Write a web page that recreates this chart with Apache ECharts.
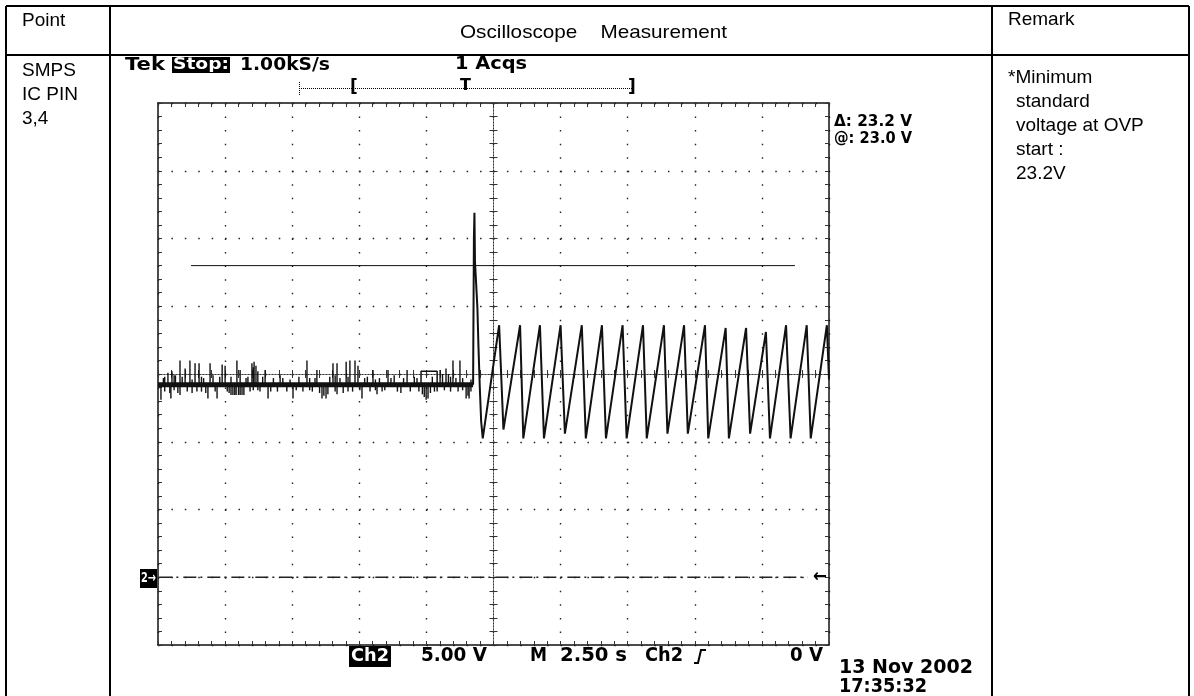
<!DOCTYPE html>
<html><head><meta charset="utf-8">
<script src="https://cdn.jsdelivr.net/npm/echarts@6/dist/echarts.min.js"></script>
<style>html,body{margin:0;padding:0;background:#fff}#c{width:1194px;height:696px}</style>
</head><body><div id="c"></div>
<script>
// ---- scale (oscilloscope: 10 div x 2.50 s, 8 div x 5.00 V, ground at 0 V) ----
const timeMin = 0, timeMax = 25, timeStep = 2.5;
const voltMin = -5, voltMax = 35, voltStep = 5;

// ---- noise before OVP start: vertical spikes (time s, low V, high V) ----
const noiseT  = [0.11,0.20,0.25,0.37,0.44,0.48,0.52,0.60,0.65,0.74,0.82,0.90,1.01,1.09,1.19,1.27,1.38,1.45,1.53,1.62,1.70,1.78,1.86,1.94,2.05,2.13,2.20,2.30,2.39,2.50,2.58,2.65,2.72,2.79,2.86,2.91,2.94,3.00,3.06,3.13,3.20,3.28,3.35,3.43,3.50,3.55,3.58,3.65,3.72,3.80,3.90,3.99,4.10,4.20,4.30,4.45,4.55,4.65,4.80,4.92,5.03,5.15,5.25,5.40,5.55,5.65,5.75,5.85,5.92,6.02,6.11,6.18,6.26,6.33,6.40,6.52,6.60,6.67,6.78,6.90,7.01,7.08,7.15,7.25,7.34,7.45,7.52,7.60,7.70,7.80,7.90,8.01,8.10,8.16,8.25,8.35,8.45,8.57,8.68,8.80,8.92,9.05,9.15,9.28,9.40,9.55,9.65,9.72,9.85,9.92,9.99,10.06,10.15,10.22,10.30,10.40,10.51,10.60,10.67,10.73,10.82,10.90,10.99,11.10,11.18,11.25,11.35,11.48,11.55,11.59,11.66];
const noiseLo = [13.1,14.2,13.7,14.2,13.6,13.2,14.2,13.8,14.2,13.6,13.45,14.2,14.2,13.7,14.2,13.6,14.2,13.7,14.2,13.7,14.2,13.6,13.2,14.2,14.2,13.7,13.2,14.2,14.2,14.2,13.7,13.6,13.45,13.45,13.45,13.45,14.2,13.45,13.45,13.45,13.45,14.2,14.2,13.7,14.2,13.8,14.2,14.2,13.8,13.7,14.2,14.2,13.2,13.7,14.2,13.7,14.2,14.2,13.7,14.2,13.2,13.8,14.2,13.7,14.2,13.8,13.7,14.2,14.2,13.6,13.2,13.4,13.2,13.5,14.2,14.2,13.7,13.5,14.2,13.6,14.2,13.7,14.2,13.7,14.2,14.2,13.8,13.2,14.2,14.2,13.7,14.2,13.8,13.5,14.2,13.7,13.8,14.2,14.2,14.2,13.7,13.6,14.2,14.2,13.7,14.2,14.2,13.7,13.5,13.3,13.1,13.2,13.6,14.2,13.7,13.7,14.2,14.2,13.8,14.2,14.2,13.7,14.2,14.2,13.7,14.2,13.8,13.2,13.4,13.2,13.7];
const noiseHi = [14.2,14.7,14.8,15.1,14.2,14.2,15.2,14.9,14.9,14.2,16.0,14.8,15.4,14.2,16.0,14.6,15.8,14.2,15.8,14.8,14.7,14.2,14.2,15.8,14.9,14.2,14.2,14.8,15.7,15.6,14.2,14.2,14.8,14.2,14.2,14.2,16.0,14.2,15.3,14.2,14.2,14.7,14.8,14.2,15.8,15.5,15.9,15.6,15.2,14.2,14.8,15.3,14.2,14.2,14.7,14.2,14.9,14.7,14.2,14.6,14.2,14.2,14.8,14.2,16.0,14.7,14.2,14.7,15.3,14.2,14.2,14.2,14.2,14.2,14.8,15.8,14.9,15.8,14.7,14.2,15.9,14.8,16.0,14.2,16.0,15.6,14.2,14.2,14.7,14.8,14.2,15.3,14.6,14.2,14.7,14.2,14.2,15.3,14.7,14.9,14.2,14.2,14.7,15.3,14.2,14.8,14.7,14.2,14.2,14.2,14.2,14.2,14.2,14.8,14.2,14.2,15.3,15.0,14.2,15.4,15.0,14.8,16.0,14.7,14.2,16.0,14.7,14.2,14.2,14.2,14.6];
const baselineT = [0, 11.74];
const baselineV = [14.2, 14.2];
const bumpT = [9.80, 9.80, 10.40, 10.40];
const bumpV = [14.2, 15.2, 15.2, 14.2];

// ---- OVP start spike and sawtooth ----
const traceT = [11.74,11.77,11.79,11.81,11.87,11.90,11.94,11.99,12.04,12.10,
  12.71,12.87,13.49,13.61,14.23,14.38,15.00,15.16,15.79,15.94,16.54,16.69,17.31,17.46,
  18.07,18.21,18.85,18.98,19.60,19.74,20.38,20.50,21.15,21.27,21.91,22.06,22.65,22.80,
  23.40,23.57,24.17,24.32,24.92,25.00];
const traceV = [14.2,25.0,26.9,23.3,23.3,19.9,17.0,14.0,11.5,10.25,
  18.6,10.9,18.6,10.25,18.6,10.25,18.6,10.6,18.6,10.25,18.6,10.25,18.6,10.25,
  18.6,10.25,18.6,10.6,18.6,10.6,18.6,10.25,18.4,10.25,18.4,10.6,18.1,10.25,
  18.6,10.25,18.6,10.25,18.6,14.6];

// ---- cursor (@: 23.0 V) and ground reference ----
const cursorT = [1.23, 23.73];
const cursorV = [23.0, 23.0];
const groundT = [0.05, 24.2];
const groundV = [0, 0];

const pairs = (a, b) => a.map((v, i) => [v, b[i]]);

// ---- layout ----
const G = {left: 158, top: 103, width: 671, height: 542};
const mctx = document.createElement('canvas').getContext('2d');
const SC = '"DejaVu Sans"';
const TB = '"Liberation Sans", Arial';
function txt(s, x, y, size, family, w, opt, weight) {
  const font = (weight ? weight + ' ' : '') + size + 'px ' + family;
  mctx.font = font;
  const m = mctx.measureText(s).width;
  const sx = w ? w / m : 1;
  const o = {type: 'text', x: x, y: y, scaleX: sx, z: 100,
    style: {text: s, font: font, fill: '#000', align: 'left', verticalAlign: 'middle'}};
  if (opt) Object.assign(o.style, opt);
  return o;
}
const sc = (s, x, y, size, w, opt) => txt(s, x, y, size, SC, w, opt, 'bold');
function ln(x1, y1, x2, y2, w, extra) {
  return {type: 'line', z: 100, shape: {x1, y1, x2, y2}, style: Object.assign({stroke: '#000', lineWidth: w}, extra || {})};
}
function box(x, y, w, h) {
  return {type: 'rect', z: 99, shape: {x, y, width: w, height: h}, style: {fill: '#000'}};
}
const TS = 19;
const graphics = [
  // table
  ln(6, 6, 1189, 6, 2), ln(6, 55, 1189, 55, 2),
  ln(6, 6, 6, 696, 2), ln(110, 6, 110, 696, 2), ln(992, 6, 992, 696, 2), ln(1189, 6, 1189, 696, 2),
  txt('Point', 22, 21, TS, TB),
  txt('Oscilloscope    Measurement', 460, 33, TS, TB, 267),
  txt('Remark', 1008, 20, TS, TB),
  txt('SMPS', 22, 71, TS, TB), txt('IC PIN', 22, 95, TS, TB), txt('3,4', 22, 119, TS, TB),
  txt('*Minimum', 1008, 78, TS, TB), txt('standard', 1016, 102, TS, TB),
  txt('voltage at OVP', 1016, 126, TS, TB), txt('start :', 1016, 150, TS, TB), txt('23.2V', 1016, 174, TS, TB),
  // scope header
  sc('Tek', 125, 65, 18, 40),
  box(172, 57, 58, 16), sc('Stop:', 173, 65, 16, 56, {fill: '#fff'}),
  sc('1.00kS/s', 240, 65, 18, 90),
  sc('1 Acqs', 455, 64, 18, 72),
  ln(299, 88.5, 633, 88.5, 1, {lineDash: [1, 1]}), ln(299.5, 82, 299.5, 95, 1, {lineDash: [1, 1]}),
  sc('[', 350, 88, 17), sc('T', 460, 86, 16), sc(']', 628, 88, 17),
  sc('\u0394: 23.2 V', 834, 122, 16, 78), sc('@: 23.0 V', 834, 139, 16, 78),
  // bottom readout
  box(349, 646, 42, 21), sc('Ch2', 351, 656, 18, 38, {fill: '#fff'}),
  sc('5.00 V', 421, 656, 19, 66),
  sc('M', 530, 656, 19, 17), sc('2.50 s', 560, 656, 19, 67), sc('Ch2', 645, 656, 19, 38),
  {type: 'polyline', z: 100, shape: {points: [[694, 663], [698, 663], [701, 650], [706, 650]]}, style: {stroke: '#000', lineWidth: 2, fill: null}},
  sc('0 V', 790, 656, 19, 33),
  sc('13 Nov 2002', 839, 668, 19, 134), sc('17:35:32', 839, 687, 19, 88),
  // ground markers
  box(140, 569, 17, 19), sc('2\u2192', 141, 578, 14, 15, {fill: '#fff'}),
  sc('\u2190', 813, 577, 18, 14)
];

const tickStyle = {color: '#333', width: 1};
const dotStyle = {color: '#222', width: 1.4};
function xAx(pos, offset, center) {
  return {type: 'value', min: timeMin, max: timeMax, interval: timeStep, position: pos, offset: offset,
    axisLabel: {show: false},
    axisLine: {show: true, onZero: false, lineStyle: center ? {color: '#333', width: 1, type: [1, 2]} : {color: '#111', width: 1.5}},
    axisTick: {show: true, inside: true, length: 4, lineStyle: tickStyle},
    minorTick: {show: true, splitNumber: 5, length: 4, lineStyle: tickStyle},
    splitLine: {show: pos === 'bottom' && !center, lineStyle: Object.assign({type: [1.5, 12.05]}, dotStyle)},
    minorSplitLine: {show: false}};
}
function yAx(pos, offset, center) {
  return {type: 'value', min: voltMin, max: voltMax, interval: voltStep, position: pos, offset: offset,
    axisLabel: {show: false},
    axisLine: {show: true, onZero: false, lineStyle: center ? {color: '#333', width: 1, type: [1, 2]} : {color: '#111', width: 1.5}},
    axisTick: {show: true, inside: true, length: 4, lineStyle: tickStyle},
    minorTick: {show: true, splitNumber: 5, length: 4, lineStyle: tickStyle},
    splitLine: {show: pos === 'left' && !center, lineStyle: Object.assign({type: [1.5, 11.92]}, dotStyle)},
    minorSplitLine: {show: false}};
}

const chart = echarts.init(document.getElementById('c'), null, {renderer: 'canvas'});
chart.setOption({
  animation: false,
  backgroundColor: '#fff',
  grid: G,
  xAxis: [xAx('bottom', 0, false), xAx('top', 0, false), xAx('bottom', -G.height / 2, true), xAx('top', -G.height / 2, true)],
  yAxis: [yAx('left', 0, false), yAx('right', 0, false), yAx('left', -G.width / 2, true), yAx('right', -G.width / 2, true)],
  series: [
    {type: 'line', data: pairs(groundT, groundV), showSymbol: false, silent: true,
      lineStyle: {color: '#222', width: 1.5, type: [13, 4, 2, 5]}},
    {type: 'line', data: pairs(cursorT, cursorV), showSymbol: false, silent: true,
      lineStyle: {color: '#111', width: 1}},
    {type: 'line', data: pairs(baselineT, baselineV), showSymbol: false, silent: true,
      lineStyle: {color: '#111', width: 5}},
    {type: 'custom', silent: true, data: noiseT.map((t, i) => [t, noiseLo[i], noiseHi[i]]),
      encode: {x: 0, y: [1, 2]},
      renderItem: function (params, api) {
        const p1 = api.coord([api.value(0), api.value(1)]);
        const p2 = api.coord([api.value(0), api.value(2)]);
        return {type: 'line', shape: {x1: p1[0], y1: p1[1], x2: p2[0], y2: p2[1]}, style: {stroke: '#111', lineWidth: 1.4}};
      }},
    {type: 'line', data: pairs(bumpT, bumpV), showSymbol: false, silent: true,
      lineStyle: {color: '#111', width: 1.5}},
    {type: 'line', data: pairs(traceT, traceV), showSymbol: false, silent: true,
      lineStyle: {color: '#111', width: 2}}
  ],
  graphic: graphics
});
</script>
</body></html>
